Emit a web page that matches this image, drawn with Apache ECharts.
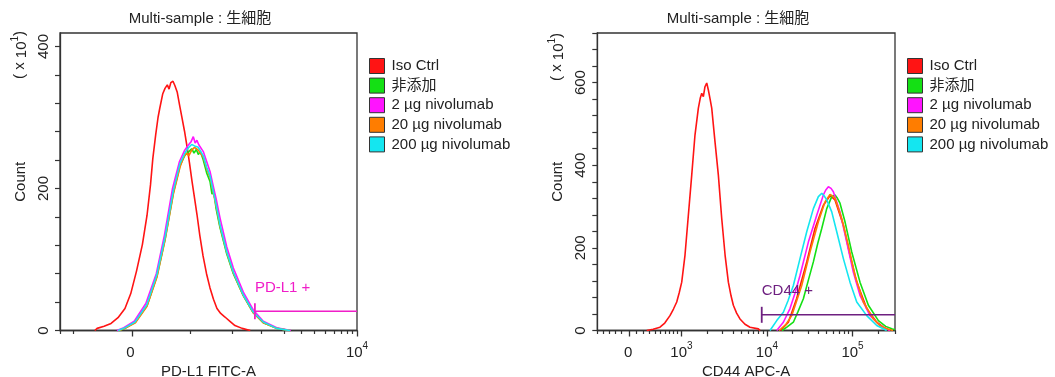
<!DOCTYPE html>
<html>
<head>
<meta charset="utf-8">
<script src="https://cdn.jsdelivr.net/npm/echarts@6/dist/echarts.min.js"></script>
<style>
html, body { margin: 0; padding: 0; background: #fff; }
#chart { width: 1055px; height: 377px; }
</style>
</head>
<body>
<div id="chart"></div>
<script>
// Two overlaid flow-cytometry histograms (256 display channels on x, count ×10 on y).
const sampleNames = ['Iso Ctrl', '非添加', '2 µg nivolumab', '20 µg nivolumab', '200 µg nivolumab'];
const sampleColors = ['#ff1414', '#14e014', '#ff14ff', '#ff7d00', '#14e6f0'];

// PD-L1 FITC-A histograms: [channel, count]
const pdl1Iso = [[30,0],[32,3],[38,6],[44,10],[50,18],[56,31],[61,52],[66,84],[71,121],[75,162],[78,205],[80,242],[82.5,276],[84.5,300],[86,313],[87,311],[88.5,333],[90.5,341],[92.5,346],[94,340],[95.5,349],[97.4,351],[99,345],[101,336],[103,318],[105,301],[107.3,281],[109.5,259],[111.6,236],[113.8,210],[116,186],[118.1,163],[120.5,134],[123.3,105],[126.3,80],[129.3,60],[132.3,44],[135.3,31],[138.5,24],[142.2,19],[146.5,13],[150.8,7],[157,3],[164,0]];
const pdl1None = [[51,0],[56,3],[65,12],[75,35],[83.5,76],[90.5,128],[97.7,194],[103.4,232],[107.7,247],[111,252],[113.5,256],[115.5,250],[117.5,255],[119.2,248],[121,252],[123.5,240],[126.4,222],[129.3,210],[131,192],[132.5,198],[134.5,172],[137.9,145],[143.7,108],[149.4,80],[158,49],[166.6,25],[175.2,11],[186.8,3],[198.3,0]];
const pdl1Niv2 = [[49,0],[55,4],[64,13],[74,38],[83,80],[90,134],[97,200],[103,238],[107.5,254],[111,262],[113,266],[114.9,273],[116.5,264],[118,268],[119.5,262],[121,264],[123.5,252],[126.4,238],[129.3,224],[132,204],[134.5,186],[138,158],[143.7,118],[149.4,88],[158,54],[166.6,29],[175.2,13],[186.8,4],[199,0]];
const pdl1Niv20 = [[51,0],[56,3],[65,11],[75,34],[83.5,75],[90.5,127],[97.7,192],[103.4,230],[106.5,244],[109,250],[111,246],[113.5,254],[116,258],[119.2,254],[123.5,244],[126.4,228],[129.3,216],[132.1,194],[134.5,176],[137.9,147],[143.7,110],[149.4,81],[158,49],[166.6,25],[175.2,11],[186.8,3],[198.3,0]];
const pdl1Niv200 = [[50,0],[55,3],[64.6,12],[74.7,36],[83.4,78],[90.5,131],[97.7,197],[103.4,235],[107.7,250],[111,258],[113.5,262],[116,260],[119.2,258],[123.5,246],[126.4,230],[129.3,218],[132.1,196],[134.5,178],[137.9,149],[143.7,111],[149.4,82],[158,50],[166.6,26],[175.2,12],[186.8,3],[198.3,0]];

// CD44 APC-A histograms: [channel, count]
const cd44Iso = [[42.5,0],[48,3],[53.9,8],[58,18],[62.5,36],[65.5,52],[68.3,69],[70.5,92],[72.6,117],[75.4,182],[78.3,279],[81.2,376],[84,473],[86.9,538],[88.5,562],[89.8,574],[91.2,566],[92.6,590],[94.1,599],[95.5,582],[97,560],[98.4,538],[101.2,457],[104.1,376],[107,271],[109.9,182],[112.7,117],[115,84],[117,61],[119.8,42],[122.7,28],[127,15],[131.3,8],[138.5,4],[140,0]];
// the red curve overlapping the treated samples on the right
const cd44IsoHigh = [[157.6,0],[164.3,20],[171.5,78],[180.1,166],[187.2,247],[194.4,303],[200.1,326],[202,322],[204.4,316],[211.6,255],[217.3,182],[223.1,117],[231.7,53],[240.3,20],[246,8],[251.7,0]];
const cd44None = [[158.8,0],[163,8],[168.6,20],[172.5,45],[177.2,77],[181.5,122],[185.8,166],[189.5,210],[193,247],[197.3,295],[201.6,324],[204.4,328],[206.5,320],[208.7,308],[213,263],[218.8,190],[225.9,117],[233.1,61],[241.7,24],[248,10],[253.2,4],[256,2]];
const cd44Niv2 = [[154.3,0],[160,20],[165.7,53],[170,90],[174.3,133],[181.5,214],[188.7,279],[194.4,328],[196.5,340],[198.7,348],[201,344],[203,336],[208.7,287],[214.5,214],[220.2,141],[225.9,85],[234.5,36],[243.1,12],[251.7,0]];
const cd44Niv20 = [[156.3,0],[162,14],[167.2,36],[175.8,109],[182.9,190],[190.1,263],[195.8,311],[200.1,329],[202,326],[204.4,320],[210.2,271],[215.9,206],[221.6,133],[228.8,69],[237.4,28],[243,12],[248.9,4],[254.3,0]];
const cd44Niv200 = [[148.5,0],[154.3,24],[160,44],[164,72],[168.6,109],[174.3,174],[180.1,239],[185.8,295],[190.1,324],[193,332],[195,326],[197.3,316],[201.6,287],[205.9,239],[211.6,174],[217.3,117],[223.1,69],[231.7,36],[240.3,12],[248.9,0]];

// gates: [startChannel, endChannel, countLevel]
const pdl1Gate = [168, 256, 27];
const cd44Gate = [141.4, 256, 38];

// axis ticks (channels) and their labels
const pdl1MajorTicks = [61.9, 256];
const pdl1MajorLabels = ['{b|0}{sup| }', '{b|10}{sup|4}'];
const pdl1MinorTicks = [0, 11.2, 112.2, 148.8, 173.5, 193.5, 208, 219.5, 229, 236.5, 242.8, 248, 252.2];
const cd44MajorTicks = [27.7, 72.4, 145.9, 219.5];
const cd44MajorLabels = ['{b|0}{sup| }', '{b|10}{sup|3}', '{b|10}{sup|4}', '{b|10}{sup|5}'];
const cd44MinorTicks = [0, 5.2, 10.3, 15.5, 20.8, 33.9, 39.6, 44.7, 49.6, 53.9, 58.2, 61.9, 65.4, 69.0,
  94.5, 107.5, 116.6, 123.8, 129.6, 134.5, 138.8, 142.5,
  168.0, 181.0, 190.1, 197.3, 203.1, 208.0, 212.3, 216.0, 241.6, 256];
const pdl1CountTicks = [0, 40, 80, 120, 160, 200, 240, 280, 320, 360, 400];
const pdl1CountLabels = [0, 200, 400];
const cd44CountTicks = [0, 40, 80, 120, 160, 200, 240, 280, 320, 360, 400, 440, 480, 520, 560, 600, 640, 680, 720];
const cd44CountLabels = [0, 200, 400, 600];

const FONT = 'Arial, "Liberation Sans", "Noto Sans CJK JP", sans-serif';
const INK = '#222';
const AXIS = '#333';
const rich = {
  b: { fontSize: 15, fontFamily: FONT, color: INK, verticalAlign: 'bottom' },
  sup: { fontSize: 10, fontFamily: FONT, color: INK, verticalAlign: 'bottom', padding: [0, 0, 9, 0] }
};

function xAxes(gridIndex, name, majors, labels, minors) {
  return [{
    type: 'value', gridIndex: gridIndex, min: 0, max: 256, position: 'bottom',
    name: name, nameLocation: 'middle', nameGap: 34, nameMoveOverlap: false,
    nameTextStyle: { fontSize: 15, fontFamily: FONT, color: INK },
    axisLine: { show: true, onZero: false, lineStyle: { color: AXIS, width: 1.3 } },
    axisTick: { show: true, customValues: majors, length: 6, lineStyle: { color: AXIS, width: 1.3 } },
    axisLabel: {
      customValues: majors, margin: 11, fontSize: 15, fontFamily: FONT, color: INK, rich: rich,
      formatter: function (v) { return labels[majors.indexOf(v)]; }
    },
    splitLine: { show: false }
  }, {
    type: 'value', gridIndex: gridIndex, min: 0, max: 256, position: 'bottom',
    axisLine: { show: false, onZero: false },
    axisTick: { show: true, customValues: minors, length: 3.5, lineStyle: { color: AXIS, width: 1.2 } },
    axisLabel: { show: false },
    splitLine: { show: false }
  }];
}

function yAxis(gridIndex, max, ticks, labels) {
  return {
    type: 'value', gridIndex: gridIndex, min: 0, max: max, position: 'left',
    name: 'Count', nameLocation: 'middle', nameGap: 32, nameRotate: 90, nameMoveOverlap: false,
    nameTextStyle: { fontSize: 15, fontFamily: FONT, color: INK },
    axisLine: { show: true, lineStyle: { color: AXIS, width: 1.3 } },
    axisTick: { show: true, customValues: ticks, length: 5, lineStyle: { color: AXIS, width: 1.2 } },
    axisLabel: { customValues: labels, rotate: 90, margin: 9, fontSize: 15, fontFamily: FONT, color: INK },
    splitLine: { show: false }
  };
}

function histSeries(data, i, xIdx, yIdx) {
  return {
    type: 'line', name: sampleNames[i], data: data, xAxisIndex: xIdx, yAxisIndex: yIdx,
    symbol: 'none', color: sampleColors[i],
    lineStyle: { width: 1.6, color: sampleColors[i] },
    z: 2 + i
  };
}

function gateSeries(gate, label, color, xIdx, yIdx) {
  return {
    type: 'line', name: label, xAxisIndex: xIdx, yAxisIndex: yIdx, symbol: 'none', z: 10,
    lineStyle: { width: 1.5, color: color }, color: color,
    data: [
      { value: [gate[0], gate[2]], symbol: 'rect', symbolSize: [1.8, 16],
        label: { show: true, formatter: label, position: 'top', align: 'left', distance: 8,
                 fontSize: 15, fontFamily: FONT, color: color } },
      { value: [gate[1], gate[2]] }
    ]
  };
}

function legend(left) {
  return {
    orient: 'vertical', left: left, top: 53, itemWidth: 15, itemHeight: 15, itemGap: 3.6,
    icon: 'rect', data: sampleNames, selectedMode: false,
    itemStyle: { borderColor: '#333', borderWidth: 1 },
    textStyle: { fontSize: 15, fontFamily: FONT, color: INK, padding: [0, 0, 0, 2] }
  };
}

function sideText(x, y, text, extra) {
  return {
    type: 'text', x: x, y: y, rotation: extra.rotate ? Math.PI / 2 : 0,
    style: Object.assign({ text: text, fontSize: 15, fontFamily: FONT, fill: INK,
                           align: 'center', verticalAlign: 'middle', rich: rich }, extra.style || {})
  };
}

const chart = echarts.init(document.getElementById('chart'), null, { renderer: 'canvas' });
chart.setOption({
  animation: false,
  backgroundColor: '#fff',
  grid: [
    { left: 60, top: 33, width: 297, height: 297.5, show: true, borderColor: AXIS, borderWidth: 1.3, containLabel: false, outerBoundsMode: 'none' },
    { left: 597.3, top: 33, width: 297.7, height: 297.5, show: true, borderColor: AXIS, borderWidth: 1.3, containLabel: false, outerBoundsMode: 'none' }
  ],
  xAxis: xAxes(0, 'PD-L1 FITC-A', pdl1MajorTicks, pdl1MajorLabels, pdl1MinorTicks)
    .concat(xAxes(1, 'CD44 APC-A', cd44MajorTicks, cd44MajorLabels, cd44MinorTicks)),
  yAxis: [yAxis(0, 419, pdl1CountTicks, pdl1CountLabels), yAxis(1, 720, cd44CountTicks, cd44CountLabels)],
  legend: [legend(364), legend(902)],
  graphic: [
    sideText(200, 19, 'Multi-sample : 生細胞', {}),
    sideText(738, 19, 'Multi-sample : 生細胞', {}),
    sideText(20, 55, '( x {b|10}{sup|1})', { rotate: true }),
    sideText(557, 57, '( x {b|10}{sup|1})', { rotate: true })
  ],
  series: [
    histSeries(pdl1Iso, 0, 0, 0),
    histSeries(pdl1None, 1, 0, 0),
    histSeries(pdl1Niv2, 2, 0, 0),
    histSeries(pdl1Niv20, 3, 0, 0),
    histSeries(pdl1Niv200, 4, 0, 0),
    gateSeries(pdl1Gate, 'PD-L1 +', '#f01ec8', 0, 0),
    histSeries(cd44Iso, 0, 2, 1),
    histSeries(cd44IsoHigh, 0, 2, 1),
    histSeries(cd44None, 1, 2, 1),
    histSeries(cd44Niv2, 2, 2, 1),
    histSeries(cd44Niv20, 3, 2, 1),
    histSeries(cd44Niv200, 4, 2, 1),
    gateSeries(cd44Gate, 'CD44 +', '#6e2080', 2, 1)
  ]
});
</script>
</body>
</html>
